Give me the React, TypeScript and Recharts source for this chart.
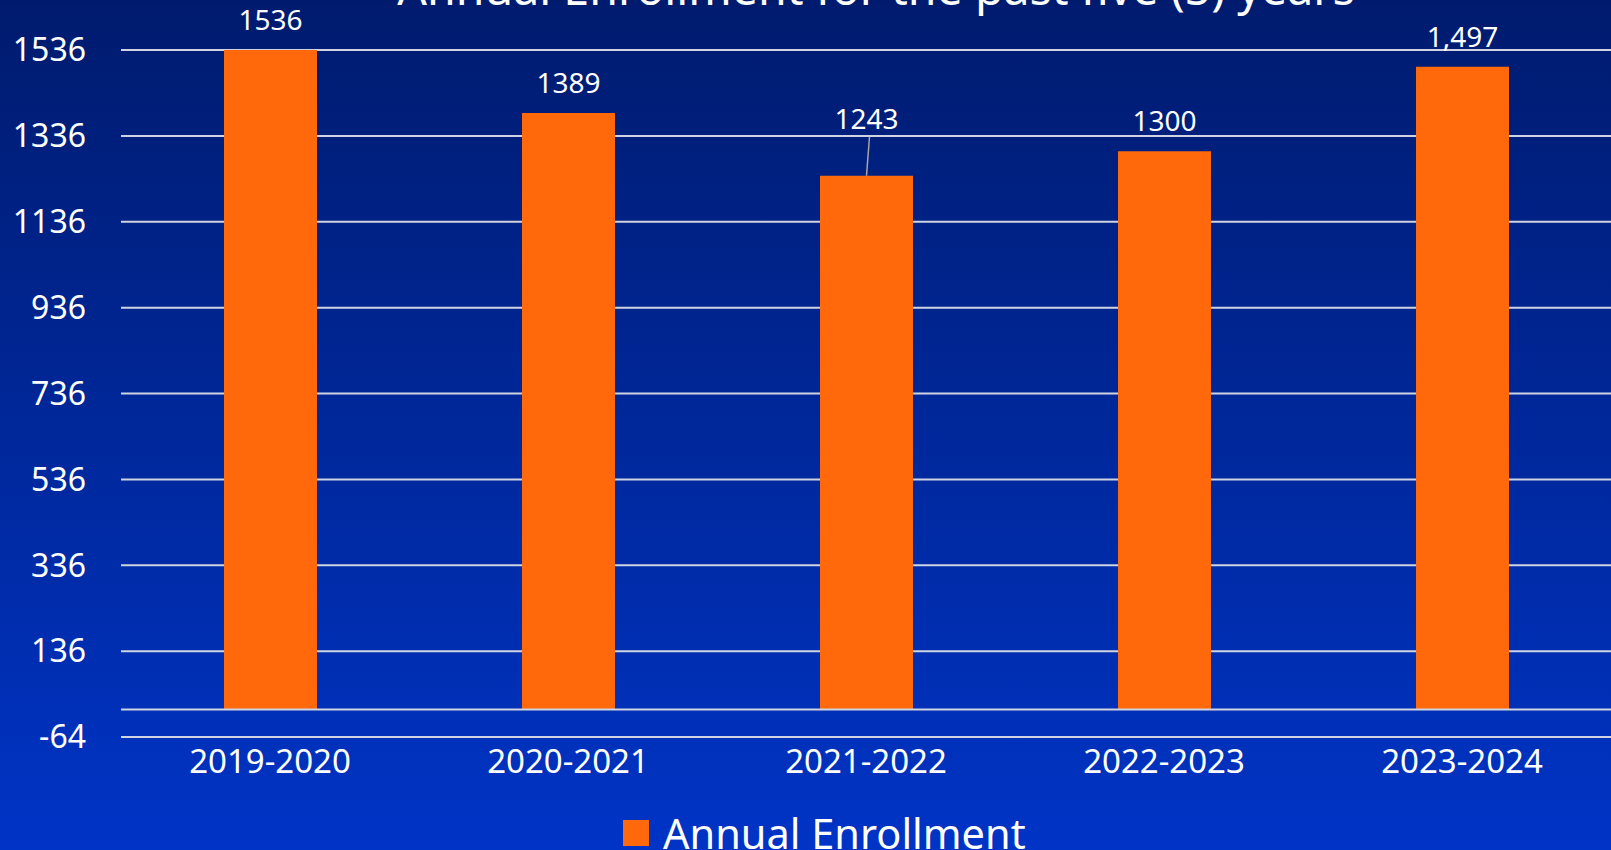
import React from "react";
import {
  BarChart,
  Bar,
  XAxis,
  YAxis,
  CartesianGrid,
  Legend,
  ReferenceLine,
  LabelList,
} from "recharts";

const years = ["2019-2020", "2020-2021", "2021-2022", "2022-2023", "2023-2024"];
const enrollment = [1536, 1389, 1243, 1300, 1497];
const valueLabels = ["1536", "1389", "1243", "1300", "1,497"];
const yTicks = [-64, 136, 336, 536, 736, 936, 1136, 1336, 1536];

const chartData = years.map((year, i) => ({
  year,
  enrollment: enrollment[i],
  label: valueLabels[i],
}));

const FONT = "'Noto Sans', sans-serif";
const ORANGE = "#ff690b";

// value labels sit above the bars; the 2021-2022 one is lifted with a leader line
const BarValueLabel = (props: any) => {
  const { x, y, width, index } = props;
  const cx = x + width / 2;
  const lifted = index === 2;
  const ty = lifted ? y - 58 : y - 31;
  return (
    <g>
      {lifted && (
        <line
          x1={cx + 3}
          y1={ty + 19}
          x2={cx}
          y2={y}
          stroke="#a6a6a6"
          strokeWidth={1.5}
        />
      )}
      <text
        x={cx}
        y={ty}
        textAnchor="middle"
        dominantBaseline="central"
        fill="#ffffff"
        fontSize={28}
        fontFamily={FONT}
      >
        {valueLabels[index]}
      </text>
    </g>
  );
};

const LegendBox = () => (
  <div
    style={{
      display: "flex",
      alignItems: "center",
      paddingLeft: 623,
      paddingTop: 8,
      height: 50,
      fontFamily: FONT,
    }}
  >
    <span
      style={{
        display: "inline-block",
        width: 26,
        height: 26,
        background: ORANGE,
        marginRight: 14,
      }}
    />
    <span style={{ color: "#ffffff", fontSize: 41.5, lineHeight: "50px" }}>
      Annual Enrollment
    </span>
  </div>
);

export default function App() {
  return (
    <div
      style={{
        position: "absolute",
        left: 0,
        top: 0,
        width: 1611,
        height: 850,
        overflow: "hidden",
        background: "linear-gradient(to bottom, #001b6e 0%, #0034c6 100%)",
      }}
    >
      <svg
        width={1611}
        height={60}
        style={{ position: "absolute", left: 0, top: 0 }}
      >
        <text
          x={876}
          y={5}
          textAnchor="middle"
          fill="#ffffff"
          fontSize={46.5}
          fontFamily={FONT}
        >
          Annual Enrollment for the past five (5) years
        </text>
      </svg>
      <BarChart
        width={1611}
        height={850}
        data={chartData}
        margin={{ top: 50, right: 0, bottom: 0, left: 0 }}
      >
        <CartesianGrid
          vertical={false}
          stroke="#d0d4e2"
          strokeWidth={2}
        />
        <XAxis
          dataKey="year"
          axisLine={false}
          tickLine={false}
          tickSize={0}
          tickMargin={13}
          height={63}
          tick={{ fill: "#ffffff", fontSize: 33, fontFamily: FONT }}
        />
        <YAxis
          domain={[-64, 1536]}
          ticks={yTicks}
          interval={0}
          width={121}
          axisLine={false}
          tickLine={false}
          tickSize={0}
          tickMargin={35}
          tick={{ fill: "#ffffff", fontSize: 32, fontFamily: FONT }}
        />
        <ReferenceLine y={0} stroke="#d0d4e2" strokeWidth={2} />
        <Legend
          verticalAlign="bottom"
          height={50}
          content={() => <LegendBox />}
        />
        <Bar
          dataKey="enrollment"
          fill={ORANGE}
          barSize={93}
          isAnimationActive={false}
        >
          <LabelList dataKey="label" content={<BarValueLabel />} />
        </Bar>
      </BarChart>
    </div>
  );
}
